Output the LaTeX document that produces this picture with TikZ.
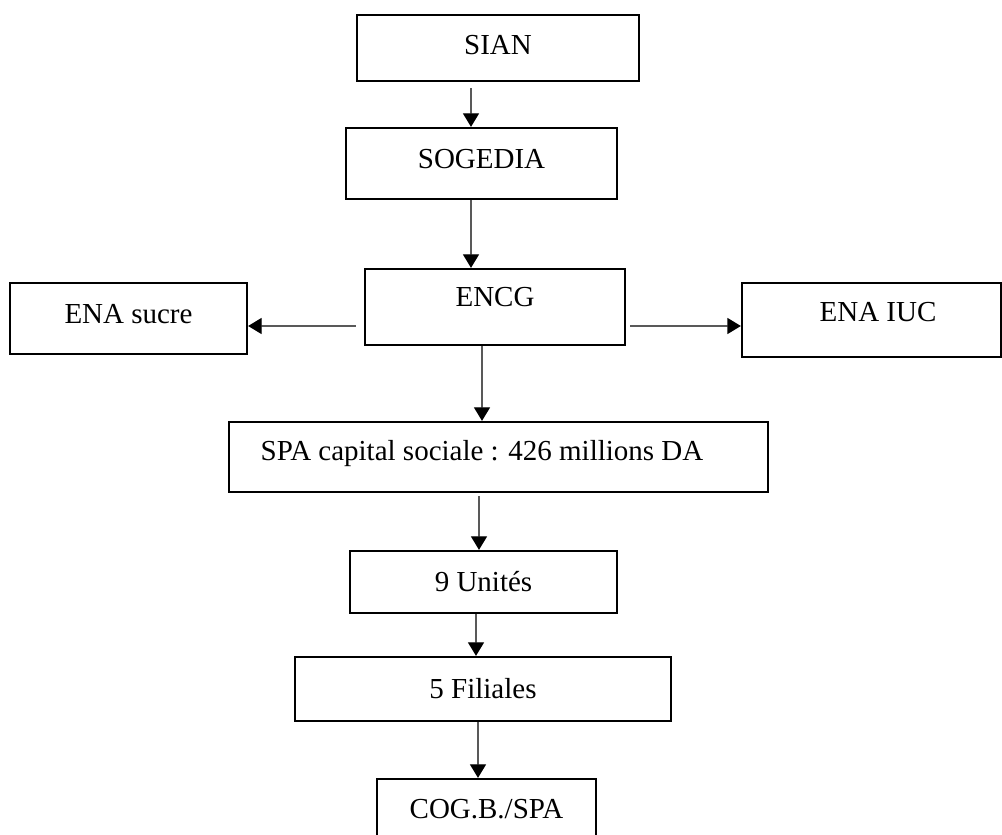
\documentclass[tikz,border=0pt]{standalone}
\usepackage{fontspec}
\setmainfont{Liberation Serif}
\usetikzlibrary{arrows.meta}
\tikzset{
    box/.style={rectangle, draw=black, line width=1.3pt, inner sep=0pt, text height=10.8pt, text depth=0pt},
    link/.style={-{Triangle[length=0.27cm, width=0.32cm]}, line width=0.7pt}
}

\begin{document}
\begin{tikzpicture}
  [
    x                       = 0.02cm,
    y                       = -0.02cm,
    every node/.style       = {font=\fontsize{16.5}{19}\selectfont},
  ]
  \useasboundingbox (0,0) rectangle (1002,835);
  \clip (0,0) rectangle (1002,835);
  % the chain from top to bottom
  \node [box, minimum width=5.64cm, minimum height=1.32cm, text depth=0.1cm] (sian) at (498,48) {SIAN};
  \node [box, minimum width=5.42cm, minimum height=1.42cm, text depth=0.18cm] (sogedia) at (481.5,163.5) {SOGEDIA};
  \node [box, minimum width=5.2cm, minimum height=1.52cm, text depth=0.4cm] (encg) at (495,307) {ENCG};
  \node [box, minimum width=4.74cm, minimum height=1.42cm, text depth=0.18cm] (sucre) at (128.5,318.5) {ENA sucre};
  \node [box, minimum width=5.18cm, minimum height=1.48cm, text depth=0.3cm] (iuc) at (871.5,320) {\hspace*{0.26cm}ENA IUC};
  \node [box, minimum width=10.78cm, minimum height=1.4cm, text depth=0.24cm] (spa) at (498.5,457) {SPA capital sociale : 426 millions DA\hspace*{0.66cm}};
  \node [box, minimum width=5.34cm, minimum height=1.24cm] (unites) at (483.5,582) {9 Unités};
  \node [box, minimum width=7.52cm, minimum height=1.28cm] (filiales) at (483,689) {5 Filiales};
  \node [box, minimum width=4.38cm, minimum height=1.32cm, text depth=0.12cm] (cog) at (486.5,812) {COG.B./SPA};

  \draw [link] ([xshift=-0.54cm, yshift=-0.12cm]sian.south) -- ([xshift=-0.21cm]sogedia.north);
  \draw [link] ([xshift=-0.21cm]sogedia.south) -- ([xshift=-0.48cm]encg.north);
  \draw [link] ([xshift=-0.16cm, yshift=-0.38cm]encg.west) -- ([yshift=-0.15cm]sucre.east);
  \draw [link] ([xshift=0.08cm, yshift=-0.38cm]encg.east) -- ([yshift=-0.12cm]iuc.west);
  \draw [link] ([xshift=-0.26cm]encg.south) -- ([xshift=-0.33cm]spa.north);
  \draw [link] ([xshift=-0.39cm, yshift=-0.06cm]spa.south) -- ([xshift=-0.09cm]unites.north);
  \draw [link] ([xshift=-0.15cm]unites.south) -- ([xshift=-0.14cm]filiales.north);
  \draw [link] ([xshift=-0.1cm]filiales.south) -- ([xshift=-0.17cm]cog.north);
\end{tikzpicture}
\end{document}
